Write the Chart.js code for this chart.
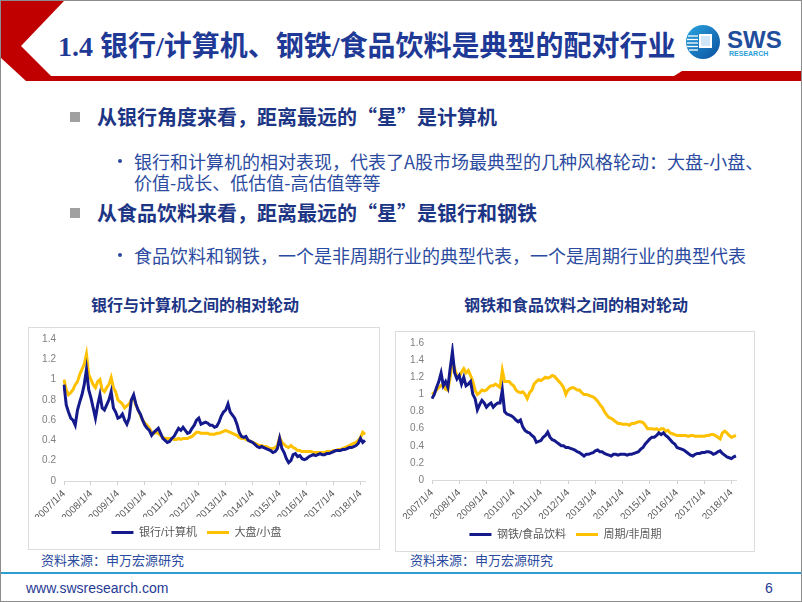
<!DOCTYPE html>
<html>
<head>
<meta charset="utf-8">
<script src="https://cdn.jsdelivr.net/npm/chart.js@4.4.0/dist/chart.umd.min.js"></script>
<style>
body { margin: 0; background: #fff; }
#slide { position: relative; width: 800px; height: 600px; border: 1px solid #8c8c8c; overflow: hidden; font-family: "Noto Sans CJK SC", sans-serif; background: #fff; }
.abs { position: absolute; white-space: nowrap; }
#title { left: 57px; top: 26px; font-size: 28px; line-height: 40px; font-weight: bold; color: #1F3A96; font-family: "Liberation Serif", "Noto Sans CJK SC", serif; }
.head { font-size: 20px; line-height: 26px; font-weight: bold; color: #1C3585; }
.sub { font-size: 18px; line-height: 21px; color: #2B4BA0; }
.sq { position: absolute; width: 10px; height: 10px; background: #a0a0a0; }
.dot { position: absolute; width: 4px; height: 4px; border-radius: 2px; background: #2B4BA0; }
.ctitle { font-size: 16px; line-height: 20px; font-weight: bold; color: #1C3585; }
.src { font-size: 13px; line-height: 18px; color: #2B4BA0; }
.box { position: absolute; border: 1px solid #dcdcdc; }
</style>
</head>
<body>
<div id="slide">
  <svg class="abs" style="left:0;top:0" width="800" height="82">
    <polygon points="0,0 63,0 20,45 50,75 673,75 681,70 800,70 800,80 25,80 0,57" fill="#C00000"/>
    <defs>
      <linearGradient id="lg" x1="0" y1="0" x2="1" y2="1">
        <stop offset="0" stop-color="#2aa6e0"/>
        <stop offset="1" stop-color="#0b4f9e"/>
      </linearGradient>
    </defs>
    <circle cx="702" cy="41" r="17" fill="url(#lg)"/>
    <rect x="698" y="33" width="13" height="14" fill="#fff"/>
    <rect x="700" y="35" width="9" height="10" fill="#cfe6f7"/>
    <g stroke="#fff" stroke-width="1.3">
      <line x1="687" y1="35" x2="697" y2="35"/>
      <line x1="686" y1="38.5" x2="697" y2="38.5"/>
      <line x1="686" y1="42" x2="697" y2="42"/>
      <line x1="686" y1="45.5" x2="697" y2="45.5"/>
      <line x1="688" y1="49" x2="697" y2="49"/>
    </g>
    <text x="726" y="47" font-family="Liberation Sans" font-weight="bold" font-size="24" fill="#1F4E9C">SWS</text>
    <text x="728" y="55" font-family="Liberation Sans" font-weight="bold" font-size="7" fill="#2AA0D6">RESEARCH</text>
  </svg>
  <div id="title" class="abs">1.4 银行/计算机、钢铁/食品饮料是典型的配对行业</div>

  <div class="sq" style="left:69px;top:111px"></div>
  <div class="abs head" style="left:96px;top:103px">从银行角度来看，距离最远的“星”是计算机</div>
  <div class="dot" style="left:117px;top:158px"></div>
  <div class="abs sub" style="left:133px;top:150px">银行和计算机的相对表现，代表了A股市场最典型的几种风格轮动：大盘-小盘、</div>
  <div class="abs sub" style="left:133px;top:171px">价值-成长、低估值-高估值等等</div>
  <div class="sq" style="left:69px;top:207px"></div>
  <div class="abs head" style="left:96px;top:199px">从食品饮料来看，距离最远的“星”是银行和钢铁</div>
  <div class="dot" style="left:117px;top:252px"></div>
  <div class="abs sub" style="left:133px;top:244px">食品饮料和钢铁，一个是非周期行业的典型代表，一个是周期行业的典型代表</div>

  <div class="abs ctitle" style="left:90px;top:293px">银行与计算机之间的相对轮动</div>
  <div class="abs ctitle" style="left:463px;top:293px">钢铁和食品饮料之间的相对轮动</div>

  <div class="box" style="left:27px;top:326px;width:350px;height:221px"></div>
  <div class="box" style="left:394px;top:330px;width:358px;height:219px"></div>
  <canvas id="left" class="abs" style="left:27px;top:326px" width="350" height="221"></canvas>
  <canvas id="right" class="abs" style="left:394px;top:330px" width="358" height="219"></canvas>

  <div class="abs src" style="left:40px;top:550px">资料来源：申万宏源研究</div>
  <div class="abs src" style="left:409px;top:550px">资料来源：申万宏源研究</div>
  <div class="abs" style="left:0;top:571px;width:800px;height:2px;background:#2C9FD0"></div>
  <div class="abs" style="left:25px;top:578px;font-family:'Liberation Sans';font-size:14px;line-height:18px;color:#1F3A96">www.swsresearch.com</div>
  <div class="abs" style="left:764px;top:578px;font-family:'Liberation Sans';font-size:14px;line-height:18px;color:#1F3A96">6</div>
</div>

<script>
// monthly points, 2007/1 .. 2018/3
var months = [];
for (var y = 2007; y <= 2018; y++) {
    for (var m = 1; m <= 12; m++) months.push(y + '/' + m);
}
months = months.slice(0, 135);

var yearTicks = ['2007/1/4', '2008/1/4', '2009/1/4', '2010/1/4', '2011/1/4', '2012/1/4',
    '2013/1/4', '2014/1/4', '2015/1/4', '2016/1/4', '2017/1/4', '2018/1/4'];

// 银行/计算机
var bankVsComputer = [
    0.95, 0.75, 0.68, 0.62, 0.60, 0.55, 0.70, 0.78, 0.85, 0.95, 1.10, 0.90,
    0.82, 0.72, 0.62, 0.75, 0.85, 0.72, 0.70, 0.75, 0.80, 0.88, 0.72, 0.68,
    0.62, 0.63, 0.66, 0.60, 0.56, 0.62, 0.80, 0.85, 0.76, 0.70, 0.66, 0.60,
    0.55, 0.52, 0.50, 0.45, 0.48, 0.50, 0.52, 0.47, 0.42, 0.40, 0.38, 0.39,
    0.42, 0.44, 0.48, 0.52, 0.50, 0.53, 0.50, 0.47, 0.48, 0.52, 0.55, 0.60,
    0.62, 0.56, 0.57, 0.58, 0.57, 0.55, 0.55, 0.53, 0.54, 0.58, 0.64, 0.68,
    0.70, 0.76, 0.68, 0.65, 0.62, 0.56, 0.48, 0.44, 0.43, 0.44, 0.40, 0.39,
    0.38, 0.36, 0.34, 0.33, 0.34, 0.33, 0.32, 0.31, 0.30, 0.28, 0.29, 0.32,
    0.42, 0.32, 0.28, 0.22, 0.18, 0.20, 0.26, 0.27, 0.24, 0.25, 0.22, 0.21,
    0.22, 0.24, 0.25, 0.26, 0.25, 0.26, 0.27, 0.26, 0.26, 0.27, 0.27, 0.28,
    0.29, 0.30, 0.30, 0.30, 0.31, 0.31, 0.32, 0.33, 0.33, 0.34, 0.35, 0.37,
    0.42, 0.38, 0.40
];
// 大盘/小盘
var bigVsSmall = [
    1.00, 0.90, 0.85, 0.87, 0.90, 0.95, 0.98, 1.05, 1.10, 1.15, 1.25, 1.05,
    1.00, 0.95, 0.92, 0.98, 1.00, 0.90, 0.88, 0.92, 0.95, 1.02, 0.92, 0.88,
    0.80, 0.78, 0.76, 0.72, 0.74, 0.76, 0.80, 0.82, 0.75, 0.70, 0.65, 0.60,
    0.57, 0.55, 0.52, 0.48, 0.47, 0.48, 0.47, 0.45, 0.43, 0.42, 0.42, 0.42,
    0.42, 0.41, 0.41, 0.42, 0.41, 0.42, 0.42, 0.42, 0.43, 0.44, 0.46, 0.48,
    0.48, 0.47, 0.47, 0.47, 0.47, 0.46, 0.46, 0.46, 0.47, 0.47, 0.48, 0.49,
    0.50, 0.49, 0.48, 0.47, 0.46, 0.45, 0.43, 0.42, 0.42, 0.41, 0.40, 0.39,
    0.38, 0.37, 0.36, 0.35, 0.35, 0.34, 0.34, 0.33, 0.32, 0.32, 0.33, 0.35,
    0.43, 0.38, 0.36, 0.34, 0.33, 0.35, 0.33, 0.32, 0.30, 0.30, 0.29, 0.29,
    0.29, 0.29, 0.29, 0.28, 0.28, 0.28, 0.28, 0.28, 0.28, 0.29, 0.29, 0.29,
    0.30, 0.30, 0.31, 0.31, 0.32, 0.33, 0.34, 0.35, 0.36, 0.37, 0.38, 0.40,
    0.43, 0.48, 0.46
];
// 钢铁/食品饮料
var steelVsFood = [
    0.95, 1.00, 1.08, 1.15, 1.25, 1.10, 1.15, 1.08, 1.30, 1.50, 1.25, 1.18,
    1.22, 1.12, 1.20, 1.10, 1.12, 1.15, 1.00, 0.95, 0.82, 0.88, 0.93, 0.90,
    0.85, 0.88, 0.90, 0.85, 0.88, 0.90, 0.90, 1.05, 0.80, 0.77, 0.76, 0.75,
    0.73, 0.70, 0.68, 0.70, 0.62, 0.58, 0.56, 0.55, 0.52, 0.50, 0.44, 0.45,
    0.46, 0.50, 0.52, 0.56, 0.50, 0.47, 0.46, 0.44, 0.42, 0.40, 0.40, 0.38,
    0.38, 0.37, 0.36, 0.35, 0.33, 0.32, 0.30, 0.28, 0.30, 0.30, 0.31, 0.32,
    0.34, 0.35, 0.33, 0.33, 0.31, 0.30, 0.29, 0.28, 0.30, 0.30, 0.29, 0.30,
    0.30, 0.30, 0.29, 0.30, 0.30, 0.31, 0.32, 0.33, 0.36, 0.38, 0.42, 0.45,
    0.48, 0.50, 0.50, 0.52, 0.55, 0.53, 0.55, 0.52, 0.50, 0.47, 0.44, 0.42,
    0.38, 0.37, 0.36, 0.35, 0.33, 0.31, 0.29, 0.28, 0.30, 0.31, 0.31, 0.32,
    0.32, 0.33, 0.33, 0.32, 0.30, 0.31, 0.33, 0.34, 0.31, 0.29, 0.27, 0.26,
    0.25, 0.27, 0.28
];
// 周期/非周期
var cyclicalVsDefensive = [
    1.00, 1.02, 1.05, 1.08, 1.10, 1.12, 1.06, 1.05, 1.20, 1.38, 1.30, 1.22,
    1.20, 1.26, 1.30, 1.25, 1.28, 1.22, 1.15, 1.05, 1.00, 1.02, 1.05, 1.04,
    1.05, 1.08, 1.10, 1.10, 1.12, 1.10, 1.08, 1.28, 1.15, 1.15, 1.15, 1.12,
    1.10, 1.05, 1.03, 1.02, 1.03, 1.00, 0.95, 1.02, 1.05, 1.12, 1.15, 1.17,
    1.16, 1.18, 1.20, 1.19, 1.20, 1.22, 1.21, 1.18, 1.15, 1.12, 1.08, 1.00,
    1.05, 1.07, 1.08, 1.07, 1.05, 1.05, 1.02, 1.00, 1.00, 0.99, 0.98, 0.97,
    0.95, 0.92, 0.88, 0.85, 0.80, 0.76, 0.73, 0.72, 0.70, 0.68, 0.66, 0.66,
    0.65, 0.65, 0.65, 0.64, 0.66, 0.66, 0.67, 0.68, 0.68, 0.67, 0.64, 0.60,
    0.60, 0.60, 0.59, 0.60, 0.58, 0.60, 0.60, 0.57, 0.58, 0.55, 0.54, 0.53,
    0.52, 0.52, 0.52, 0.52, 0.52, 0.51, 0.52, 0.52, 0.51, 0.51, 0.51, 0.51,
    0.51, 0.52, 0.52, 0.53, 0.53, 0.52, 0.50, 0.48, 0.55, 0.57, 0.55, 0.52,
    0.50, 0.51, 0.52
];

var NAVY = '#141A8C';
var GOLD = '#FFC000';
var FONT = '"Liberation Sans", "Noto Sans CJK SC", sans-serif';

function yearMark(ctx) {
    return ctx.index % 12 === 0 ? '#d0d0d0' : 'rgba(0,0,0,0)';
}

function pairChart(id, blueName, blueData, goldName, goldData, yMax, axisW, axisH, padRight) {
    return new Chart(document.getElementById(id), {
        type: 'line',
        data: {
            labels: months,
            datasets: [
                { label: blueName, data: blueData, borderColor: NAVY, backgroundColor: NAVY, borderWidth: 3, pointRadius: 0, tension: 0 },
                { label: goldName, data: goldData, borderColor: GOLD, backgroundColor: GOLD, borderWidth: 3, pointRadius: 0, tension: 0 }
            ]
        },
        options: {
            responsive: false,
            animation: false,
            layout: { padding: { top: 12, right: padRight, bottom: 0, left: 0 } },
            scales: {
                x: {
                    offset: false,
                    grid: { drawOnChartArea: false, tickLength: 4, color: yearMark },
                    border: { color: '#d9d9d9' },
                    ticks: {
                        autoSkip: false, minRotation: 45, maxRotation: 45, padding: 3,
                        color: '#595959', font: { size: 10, family: FONT },
                        callback: function (v, i) { return i % 12 === 0 ? yearTicks[i / 12] : ''; }
                    },
                    afterFit: function (s) { s.height = axisH; }
                },
                y: {
                    min: 0, max: yMax,
                    grid: { display: false },
                    border: { display: false },
                    ticks: {
                        stepSize: 0.2, padding: 0,
                        color: '#7f7f7f', font: { size: 10, family: FONT },
                        callback: function (v) { return String(Math.round(v * 10) / 10); }
                    },
                    afterFit: function (s) { s.width = axisW; }
                }
            },
            plugins: {
                legend: {
                    position: 'bottom',
                    labels: {
                        usePointStyle: true, pointStyle: 'line', pointStyleWidth: 22,
                        padding: 10, color: '#595959', font: { size: 11, family: FONT }
                    }
                },
                tooltip: { enabled: false }
            }
        }
    });
}

pairChart('left', '银行/计算机', bankVsComputer, '大盘/小盘', bigVsSmall, 1.4, 36, 36, 13);
pairChart('right', '钢铁/食品饮料', steelVsFood, '周期/非周期', cyclicalVsDefensive, 1.6, 37, 39, 17);
</script>
</body>
</html>
